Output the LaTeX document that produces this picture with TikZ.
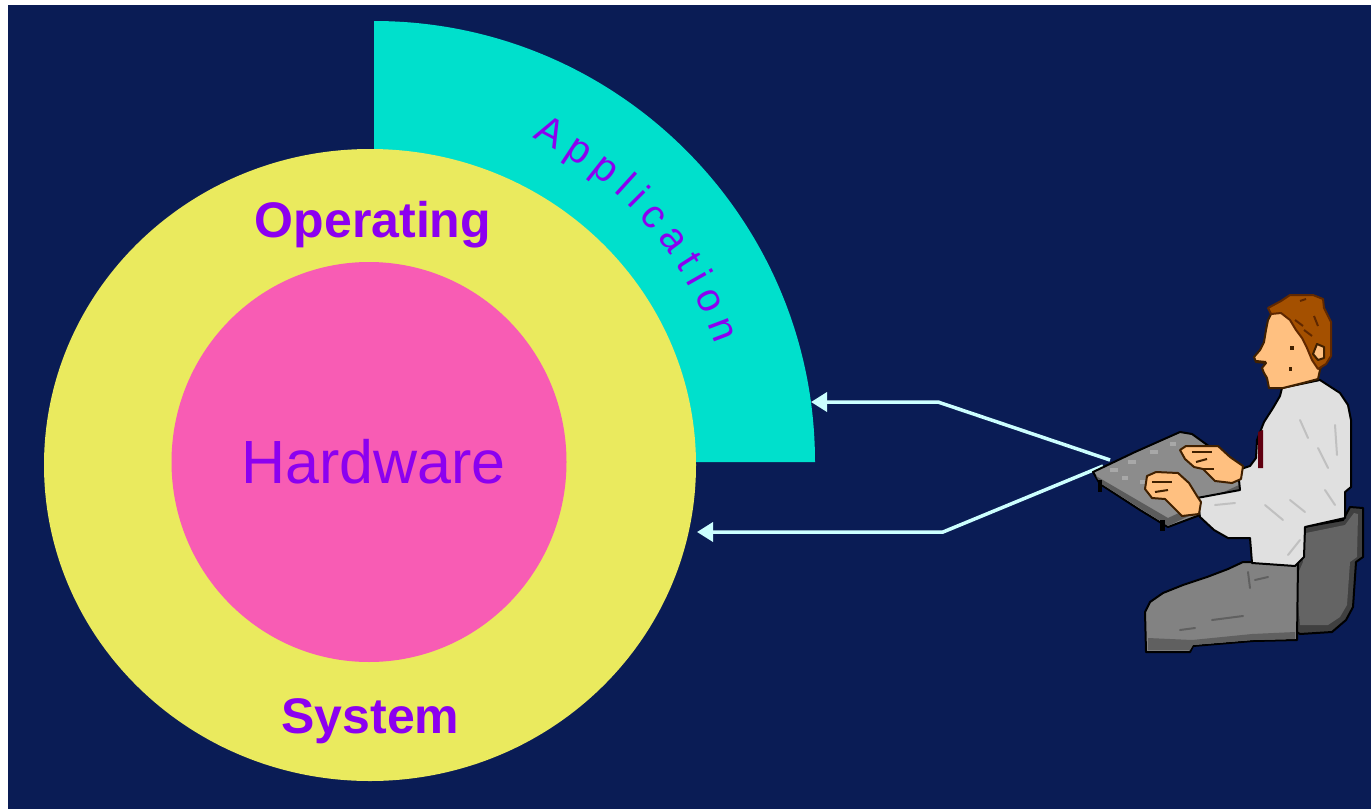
\documentclass[tikz,border=0pt]{standalone}
\usepackage{fontspec}
\setmainfont{Liberation Sans}
\usetikzlibrary{arrows.meta,decorations.text}

\definecolor{navy}{HTML}{0A1C55}
\definecolor{appcyan}{HTML}{00E0CC}
\definecolor{osyellow}{HTML}{EAEA5E}
\definecolor{hwpink}{HTML}{F85CB4}
\definecolor{labelpurple}{HTML}{8C00F0}
\definecolor{cuecyan}{HTML}{CCFFFF}
\definecolor{hair}{HTML}{A45000}
\definecolor{hairdark}{HTML}{602800}
\definecolor{skin}{HTML}{FFC080}
\definecolor{skinline}{HTML}{402000}
\definecolor{shirt}{HTML}{E0E0E0}
\definecolor{shirtshade}{HTML}{C0C0C0}
\definecolor{tie}{HTML}{600010}
\definecolor{keytop}{HTML}{8C8C8C}
\definecolor{keylight}{HTML}{A8A8A8}
\definecolor{keyside}{HTML}{5C5C5C}
\definecolor{pants}{HTML}{828282}
\definecolor{pantsdark}{HTML}{606060}
\definecolor{seat}{HTML}{646464}
\definecolor{seatdark}{HTML}{404040}

\begin{document}
\begin{tikzpicture}[x=1pt,y=-1pt,
  layerlabel/.style={text=labelpurple, inner sep=0pt},
  boldlabel/.style={layerlabel, font=\fontsize{50}{50}\selectfont\bfseries},
  cue/.style={draw=cuecyan, line width=3.5pt, -{Triangle[length=16pt,width=19pt]}},
  blackedge/.style={draw=black, line width=2pt, line join=round},
  skinpart/.style={fill=skin, draw=skinline, line width=2pt, line join=round},
  crease/.style={draw=shirtshade, line width=2pt, line cap=round},
  pantscrease/.style={draw=pantsdark, line width=2pt, line cap=round},
]
\useasboundingbox (0,0) rectangle (1371,809);
\fill[white] (0,0) rectangle (1371,809);
\fill[navy] (8,5) rectangle (1371,809);

% layer rings
\coordinate (ctr) at (374,462);
\fill[appcyan] (ctr) -- ([shift={(-90:441)}]ctr) arc[start angle=-90, end angle=0, radius=441] -- cycle;
\fill[osyellow] (370,465) ellipse[x radius=326, y radius=316];
\fill[hwpink] (369,462) ellipse[x radius=197.5, y radius=200];

% curved application label
\path[decorate, decoration={text along path, text align={fit to path},
      text color=labelpurple, text={|\fontsize{40}{40}\selectfont|Application}}]
  ([shift={(-64:361)}]ctr) arc[start angle=-64, end angle=-19, radius=361];

\node[boldlabel, anchor=base] (os top) at (373,237) {Operating};
\node[layerlabel, font=\fontsize{61}{61}\selectfont, anchor=base] (hw) at (373.5,483) {Hardware};
\node[boldlabel, anchor=base] (os bottom) at (370.5,733) {System};

% user input paths
\coordinate (kb a) at (1110,460);
\coordinate (bend a) at (938,402);
\coordinate (app edge) at (811,402);
\coordinate (kb b) at (1103,466);
\coordinate (bend b) at (943,532);
\coordinate (os edge) at (697,532);
\draw[cue] (kb a) -- (bend a) -- (app edge);
\draw[cue] (kb b) -- (bend b) -- (os edge);

% chair
\filldraw[fill=seatdark, blackedge] (1298,528) -- (1343,520) -- (1350,507) -- (1363,508) -- (1363,557) -- (1356,562) -- (1353,607) -- (1346,620) -- (1332,632) -- (1300,634) -- (1286,626) -- (1287,575) -- (1296,560) -- cycle;
\fill[seat] (1306,533) -- (1345,525) -- (1354,513) -- (1358,514) -- (1357,557) -- (1350,562) -- (1347,605) -- (1340,617) -- (1328,625) -- (1300,625) -- (1296,578) -- (1303,562) -- cycle;

% trousers
\filldraw[fill=pants, blackedge] (1243,562) -- (1298,562) -- (1297,640) -- (1253,641) -- (1193,646) -- (1190,652) -- (1146,652) -- (1145,612) -- (1150,602) -- (1163,593) -- (1183,585) -- (1207,577) -- (1228,569) -- cycle;
\fill[pantsdark] (1148,638) -- (1192,640) -- (1252,634) -- (1295,632) -- (1295,639) -- (1253,640) -- (1193,645) -- (1190,650) -- (1148,650) -- cycle;
\draw[pantscrease] (1212,620) -- (1243,616);
\draw[pantscrease] (1255,580) -- (1268,577);
\draw[pantscrease] (1248,572) -- (1250,588);
\draw[pantscrease] (1180,630) -- (1195,628);

% keyboard
\filldraw[fill=keytop, blackedge] (1093,472) -- (1135,452) -- (1180,432) -- (1192,434) -- (1242,470) -- (1242,492) -- (1200,515) -- (1168,527) -- (1140,510) -- (1100,484) -- cycle;
\fill[keyside] (1096,476) -- (1168,518) -- (1241,484) -- (1241,491) -- (1168,526) -- (1100,483) -- cycle;
\fill[keylight] (1110,468) rectangle (1118,472);
\fill[keylight] (1128,460) rectangle (1136,464);
\fill[keylight] (1150,450) rectangle (1158,454);
\fill[keylight] (1170,442) rectangle (1176,446);
\fill[keylight] (1140,480) rectangle (1148,484);
\fill[keylight] (1122,476) rectangle (1128,480);
\fill[black] (1098,480) rectangle (1102,492);
\fill[black] (1160,520) rectangle (1165,531);

% shirt with sleeves
\filldraw[fill=shirt, blackedge] (1282,388) -- (1320,380) -- (1340,393) -- (1348,405) -- (1351,420) -- (1351,487) -- (1345,492) -- (1345,518) -- (1305,527) -- (1304,557) -- (1295,566) -- (1252,563) -- (1250,538) -- (1228,538) -- (1214,530) -- (1200,517) -- (1197,498) -- (1240,490) -- (1238,470) -- (1250,466) -- (1256,458) -- (1257,440) -- (1264,422) -- (1273,408) -- (1280,396) -- cycle;
\draw[crease] (1300,420) -- (1308,438);
\draw[crease] (1318,448) -- (1328,468);
\draw[crease] (1335,425) -- (1337,455);
\draw[crease] (1265,505) -- (1283,520);
\draw[crease] (1290,500) -- (1305,512);
\draw[crease] (1300,540) -- (1288,555);
\draw[crease] (1325,490) -- (1335,505);
\draw[crease] (1215,505) -- (1235,503);
\fill[tie] (1258,432) -- (1263,430) -- (1263,468) -- (1258,468) -- cycle;

% hands
\filldraw[skinpart] (1180,450) -- (1186,446) -- (1218,446) -- (1230,457) -- (1243,466) -- (1241,479) -- (1232,483) -- (1215,481) -- (1203,469) -- (1194,467) -- (1185,459) -- cycle;
\draw[skinline, line width=2pt] (1192,452) -- (1212,452);
\draw[skinline, line width=2pt] (1196,462) -- (1207,459);
\draw[skinline, line width=2pt] (1203,469) -- (1214,469);
\filldraw[skinpart] (1147,476) -- (1156,472) -- (1178,473) -- (1189,483) -- (1197,496) -- (1201,502) -- (1199,514) -- (1182,516) -- (1172,506) -- (1165,499) -- (1152,498) -- (1145,489) -- cycle;
\draw[skinline, line width=2pt] (1152,482) -- (1172,482);
\draw[skinline, line width=2pt] (1155,492) -- (1168,490);

% head
\filldraw[skinpart] (1272,312) -- (1290,310) -- (1310,322) -- (1320,338) -- (1324,360) -- (1320,370) -- (1318,379) -- (1303,383) -- (1283,388) -- (1269,388) -- (1267,378) -- (1264,373) -- (1262,368) -- (1266,363) -- (1256,362) -- (1254,357) -- (1260,350) -- (1264,342) -- (1266,330) -- (1268,320) -- cycle;
\filldraw[fill=hair, draw=hairdark, line width=2pt, line join=round] (1268,308) -- (1281,301) -- (1290,295) -- (1313,295) -- (1323,299) -- (1324,308) -- (1331,322) -- (1331,356) -- (1326,364) -- (1318,369) -- (1312,360) -- (1307,348) -- (1302,338) -- (1296,330) -- (1290,320) -- (1281,313) -- (1271,314) -- cycle;
\draw[hairdark, line width=2pt] (1295,320) -- (1303,326);
\draw[hairdark, line width=2pt] (1304,330) -- (1312,336);
\draw[hairdark, line width=2pt] (1314,316) -- (1318,326);
\draw[hairdark, line width=2pt] (1300,301) -- (1306,299);
\filldraw[skinpart] (1317,344) -- (1324,347) -- (1324,358) -- (1318,360) -- (1313,354) -- cycle;
\fill[skinline] (1290,346) rectangle (1294,350);
\fill[skinline] (1289,367) rectangle (1292,371);
\draw[skinline, line width=2pt] (1256,361) -- (1266,362);
\end{tikzpicture}
\end{document}
